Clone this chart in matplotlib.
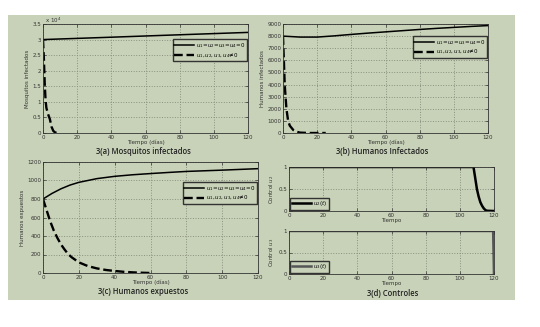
import numpy as np
import matplotlib
matplotlib.use("Agg")
import matplotlib.pyplot as plt
from matplotlib.patches import Rectangle

# 3(a) mosquitos infectados
ta_sin = [0, 20, 40, 60, 80, 100, 120]
ma_sin = [30000, 30380, 30760, 31150, 31540, 31920, 32300]
ta_con = [0, 0.5, 1, 1.5, 2, 3, 4, 5, 6, 7, 8, 10]
ma_con = [30000, 24000, 16000, 10500, 8000, 6000, 4500, 2000, 700, 200, 50, 0]

# 3(b) humanos infectados
tb_sin = [0, 10, 20, 30, 40, 50, 60, 70, 80, 90, 100, 110, 120]
hb_sin = [8000, 7920, 7920, 8020, 8140, 8250, 8350, 8450, 8550, 8640, 8720, 8800, 8870]
tb_con = [0, 0.5, 1, 2, 3, 4, 6, 8, 10, 15, 25]
hb_con = [8000, 6000, 4000, 2000, 1000, 600, 250, 100, 30, 0, 0]

# 3(c) humanos expuestos
tc_sin = [0, 5, 10, 15, 20, 30, 40, 50, 60, 70, 80, 90, 100, 110, 120]
ec_sin = [800, 860, 910, 950, 980, 1020, 1045, 1062, 1075, 1087, 1098, 1105, 1112, 1120, 1128]
tc_con = [0, 2, 4, 6, 8, 10, 12, 14, 16, 20, 25, 30, 35, 40, 45, 50, 55, 60]
ec_con = [800, 680, 560, 460, 380, 310, 255, 205, 170, 115, 75, 50, 33, 22, 13, 7, 3, 0]

# 3(d) controles
td1 = [0, 108, 109, 110, 111, 112, 113, 114, 115, 116, 120]
u2 = [1, 1, 0.75, 0.5, 0.33, 0.2, 0.12, 0.06, 0.02, 0.005, 0]
td2 = [0, 119.5, 120]
u3 = [1, 1, 0]

lab_sin = r"$u_1\!=\!u_2\!=\!u_3\!=\!u_4\!=\!0$"
lab_con = r"$u_1,u_2,u_3,u_4\!\neq\!0$"

bg = "#c8d2b8"
fs = 4
plt.rcParams["font.family"] = "DejaVu Sans"

fig = plt.figure(figsize=(5.4, 3.27), dpi=100)
fig.patch.set_facecolor("white")
fig.patches.append(Rectangle((8 / 540, 1 - 300 / 327), 507 / 540, 285 / 327,
                             transform=fig.transFigure, facecolor=bg,
                             edgecolor="none", zorder=-10))


def style(ax, xlabel, ylabel):
    ax.set_facecolor(bg)
    ax.grid(True, linestyle=":", color="#8a9080", linewidth=0.7)
    ax.tick_params(direction="in", labelsize=fs, length=2, width=0.5,
                   colors="#333333", pad=1.2, top=True, right=True)
    for s in ax.spines.values():
        s.set_linewidth(0.6)
        s.set_color("#333333")
    ax.set_xlim(0, 120)
    ax.set_xticks(range(0, 121, 20))
    ax.set_xlabel(xlabel, fontsize=fs, labelpad=0, color="#333333")
    ax.set_ylabel(ylabel, fontsize=fs, labelpad=2, color="#333333")


def leyenda(ax, **kw):
    ax.legend(fontsize=fs, frameon=True, fancybox=False, edgecolor="#333333",
              facecolor=bg, framealpha=1, handlelength=3.5, borderpad=0.3,
              labelspacing=0.2, handletextpad=0.4, borderaxespad=0.2, **kw)


# (a)
ax = fig.add_axes([43 / 540, 1 - 133 / 327, 205 / 540, 109 / 327])
ax.plot(ta_sin, ma_sin, color="black", lw=1.1, label=lab_sin)
ax.plot(ta_con, ma_con, color="black", lw=1.7, ls="--", label=lab_con)
ax.set_ylim(0, 35000)
ax.set_yticks(np.arange(0, 35001, 5000))
ax.set_yticklabels(["0", "0.5", "1", "1.5", "2", "2.5", "3", "3.5"])
ax.text(0.01, 1.01, r"x 10$^4$", transform=ax.transAxes, fontsize=fs, color="#333333")
style(ax, "Tiempo (días)", "Mosquitos infectados")
leyenda(ax, loc="upper right", bbox_to_anchor=(1.0, 0.87))

# (b)
ax = fig.add_axes([283 / 540, 1 - 133 / 327, 205 / 540, 109 / 327])
ax.plot(tb_sin, hb_sin, color="black", lw=1.1, label=lab_sin)
ax.plot(tb_con, hb_con, color="black", lw=1.7, ls="--", label=lab_con)
ax.set_ylim(0, 9000)
ax.set_yticks(range(0, 9001, 1000))
style(ax, "Tiempo (días)", "Humanos infectados")
leyenda(ax, loc="upper right", bbox_to_anchor=(1.0, 0.9))

# (c)
ax = fig.add_axes([43 / 540, 1 - 273 / 327, 215 / 540, 111 / 327])
ax.plot(tc_sin, ec_sin, color="black", lw=1.1, label=lab_sin)
ax.plot(tc_con, ec_con, color="black", lw=1.7, ls="--", label=lab_con)
ax.set_ylim(0, 1200)
ax.set_yticks(range(0, 1201, 200))
style(ax, "Tiempo (días)", "Humanos expuestos")
leyenda(ax, loc="upper right", bbox_to_anchor=(1.0, 0.83))

# (d) arriba
ax = fig.add_axes([289 / 540, 1 - 211 / 327, 205 / 540, 44 / 327])
ax.plot(td1, u2, color="black", lw=1.8, label=r"$u_2(t)$")
ax.set_ylim(0, 1)
ax.set_yticks([0, 0.5, 1])
ax.set_yticklabels(["0", "0.5", "1"])
style(ax, "Tiempo", r"Control $u_2$")
leyenda(ax, loc="lower left")

# (d) abajo
ax = fig.add_axes([289 / 540, 1 - 274 / 327, 205 / 540, 43 / 327])
ax.plot(td2, u3, color="#555555", lw=1.8, label=r"$u_3(t)$")
ax.set_ylim(0, 1)
ax.set_yticks([0, 0.5, 1])
ax.set_yticklabels(["0", "0.5", "1"])
style(ax, "Tiempo", r"Control $u_3$")
leyenda(ax, loc="lower left")

tfont = dict(fontsize=5.5, color="#222222", ha="center", va="center",
             family="Open Sans", fontweight="semibold")
fig.text(143 / 540, 1 - 151 / 327, "3(a) Mosquitos infectados", **tfont)
fig.text(382 / 540, 1 - 151 / 327, "3(b) Humanos Infectados", **tfont)
fig.text(143 / 540, 1 - 292 / 327, "3(c) Humanos expuestos", **tfont)
fig.text(393 / 540, 1 - 293 / 327, "3(d) Controles", **tfont)

fig.savefig("out.png", dpi=100)
